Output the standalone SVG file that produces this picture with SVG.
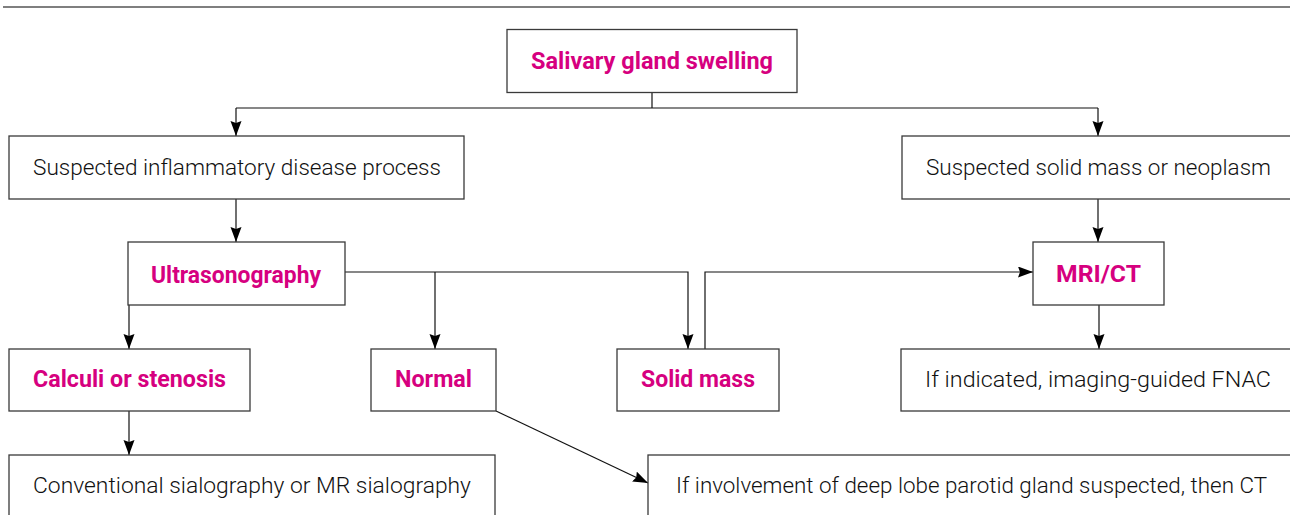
<svg xmlns="http://www.w3.org/2000/svg" width="1290" height="515" viewBox="0 0 1290 515">
<style>
.box{fill:#fff;stroke:#3a3a3a;stroke-width:1.3}
.t{font-family:Roboto,"Liberation Sans",sans-serif;font-size:22px;font-weight:300;fill:#111}
.b{font-family:Roboto,"Liberation Sans",sans-serif;font-size:23px;font-weight:bold;fill:#d6007f}
.c{fill:none;stroke:#111;stroke-width:1.2}
</style>
<defs>
<marker id="ah" markerUnits="userSpaceOnUse" markerWidth="16" markerHeight="12" refX="15" refY="5.5" orient="auto">
<path d="M0,0 L15,5.5 L0,11 L2,5.5 z" fill="#000"/>
</marker>
</defs>
<line x1="3" y1="7" x2="1290" y2="7" stroke="#555" stroke-width="1.5"/>
<g id="connectors" class="c">
<polyline points="652,92 652,108"/>
<polyline points="236,108 1098,108"/>
<polyline points="236,108 236,136" marker-end="url(#ah)"/>
<polyline points="1098,108 1098,136" marker-end="url(#ah)"/>
<polyline points="236,199 236,242" marker-end="url(#ah)"/>
<polyline points="1098,199 1098,242" marker-end="url(#ah)"/>
<polyline points="345,272 688,272 688,349" marker-end="url(#ah)"/>
<polyline points="435,272 435,349" marker-end="url(#ah)"/>
<polyline points="129,305 129,349" marker-end="url(#ah)"/>
<polyline points="129,411 129,455" marker-end="url(#ah)"/>
<polyline points="705,349 705,272 1033,272" marker-end="url(#ah)"/>
<polyline points="1099,305 1099,349" marker-end="url(#ah)"/>
<polyline points="496,411 648,483" marker-end="url(#ah)"/>
</g>
<g id="n-salivary"><rect class="box" x="507" y="29.5" width="290" height="63"/><text class="b" x="531" y="69" textLength="242" lengthAdjust="spacingAndGlyphs">Salivary gland swelling</text></g>
<g id="n-inflam"><rect class="box" x="9" y="136" width="455" height="63"/><text class="t" x="33" y="175" textLength="408" lengthAdjust="spacingAndGlyphs">Suspected inflammatory disease process</text></g>
<g id="n-neoplasm"><rect class="box" x="902" y="136" width="395" height="63"/><text class="t" x="926" y="175" textLength="345" lengthAdjust="spacingAndGlyphs">Suspected solid mass or neoplasm</text></g>
<g id="n-us"><rect class="box" x="128" y="242" width="217" height="63"/><text class="b" x="151" y="283" textLength="170" lengthAdjust="spacingAndGlyphs">Ultrasonography</text></g>
<g id="n-mri"><rect class="box" x="1033" y="242" width="131" height="63"/><text class="b" x="1056" y="282" textLength="85" lengthAdjust="spacingAndGlyphs">MRI/CT</text></g>
<g id="n-calculi"><rect class="box" x="9" y="349" width="241" height="62"/><text class="b" x="33" y="387" textLength="193" lengthAdjust="spacingAndGlyphs">Calculi or stenosis</text></g>
<g id="n-normal"><rect class="box" x="371" y="349" width="125" height="62"/><text class="b" x="395" y="387" textLength="77" lengthAdjust="spacingAndGlyphs">Normal</text></g>
<g id="n-solid"><rect class="box" x="617" y="349" width="162" height="62"/><text class="b" x="641" y="387" textLength="114" lengthAdjust="spacingAndGlyphs">Solid mass</text></g>
<g id="n-fnac"><rect class="box" x="901" y="349" width="396" height="62"/><text class="t" x="925" y="387" textLength="346" lengthAdjust="spacingAndGlyphs">If indicated, imaging-guided FNAC</text></g>
<g id="n-sialo"><rect class="box" x="9" y="455" width="486" height="70"/><text class="t" x="33" y="493" textLength="438" lengthAdjust="spacingAndGlyphs">Conventional sialography or MR sialography</text></g>
<g id="n-deep"><rect class="box" x="648" y="455" width="650" height="70"/><text class="t" x="676" y="493" textLength="591" lengthAdjust="spacingAndGlyphs">If involvement of deep lobe parotid gland suspected, then CT</text></g>
</svg>
